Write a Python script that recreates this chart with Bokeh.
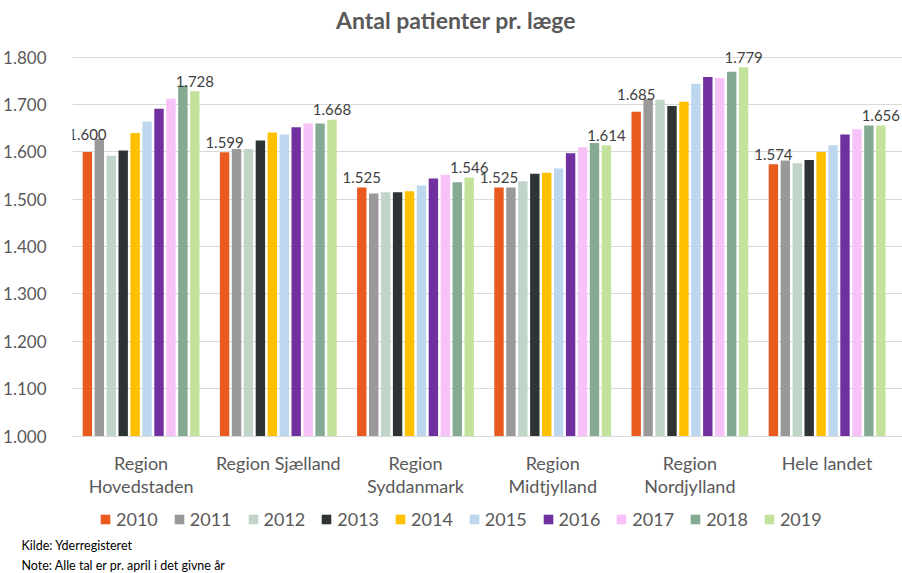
from bokeh.plotting import figure
from bokeh.models import (Range1d, FixedTicker, Label, Legend, LegendItem,
                          ColumnDataSource, Title)
from bokeh.transform import dodge
from bokeh.core.properties import value
from bokeh.embed import file_html
from bokeh.resources import INLINE

# ---------------- data ----------------
regions = ["Region Hovedstaden", "Region Sjælland", "Region Syddanmark",
           "Region Midtjylland", "Region Nordjylland", "Hele landet"]
region_labels = ["Region\nHovedstaden", "Region Sjælland", "Region\nSyddanmark",
                 "Region\nMidtjylland", "Region\nNordjylland", "Hele landet"]
years = ["2010", "2011", "2012", "2013", "2014", "2015", "2016", "2017", "2018", "2019"]

v2010 = [1600, 1599, 1525, 1525, 1685, 1574]
v2011 = [1628, 1606, 1512, 1525, 1712, 1582]
v2012 = [1592, 1606, 1515, 1538, 1710, 1576]
v2013 = [1603, 1624, 1515, 1554, 1697, 1583]
v2014 = [1640, 1641, 1517, 1556, 1706, 1600]
v2015 = [1664, 1637, 1529, 1565, 1744, 1614]
v2016 = [1691, 1652, 1544, 1597, 1758, 1637]
v2017 = [1712, 1660, 1552, 1610, 1756, 1648]
v2018 = [1740, 1660, 1536, 1619, 1769, 1656]
v2019 = [1728, 1668, 1546, 1614, 1779, 1656]
series = [v2010, v2011, v2012, v2013, v2014, v2015, v2016, v2017, v2018, v2019]

colors = ["#E85A1E", "#999999", "#C0D4C8", "#2E3436", "#FFC000",
          "#BDD7EE", "#7030A0", "#F6C2F8", "#84AA93", "#C3E39C"]

y_ticks = [1000, 1100, 1200, 1300, 1400, 1500, 1600, 1700, 1800]

title_text = "Antal patienter pr. læge"
source_text = "Kilde: Yderregisteret"
note_text = "Note: Alle tal er pr. april i det givne år"

FONT = "Lato"
GREY = "#595959"


def fmt(v):
    return f"{v:,}".replace(",", ".")


# ---------------- layout constants (pixels) ----------------
W, H = 902, 573
FRAME_L, FRAME_R, FRAME_B = 72, 902, 536
CAT_PX = 137.2                              # width of one category slot
PX_PER_UNIT = (438 - 57) / 800.0            # 1.000 at y=438, 1.800 at y=57
y_end = 1800 + 57 / PX_PER_UNIT
y_start = 1000 - (FRAME_B - 438) / PX_PER_UNIT

p = figure(x_range=Range1d(0, (FRAME_R - FRAME_L) / CAT_PX),
           y_range=Range1d(y_start, y_end),
           width=W, height=H,
           min_border_left=FRAME_L, min_border_right=W - FRAME_R,
           min_border_top=0, min_border_bottom=H - FRAME_B,
           output_backend="svg", toolbar_location=None, tools="")
p.outline_line_color = None
p.background_fill_color = "white"
p.border_fill_color = "white"

xpos = [i + 0.5 for i in range(len(regions))]   # slot centres
step = 0.087
bar_w = 0.0685
src = ColumnDataSource(dict(xpos=xpos, **{y: s for y, s in zip(years, series)}))

items = []
for j, (yr, col) in enumerate(zip(years, colors)):
    off = (j - 4.5) * step
    r = p.vbar(x=dodge("xpos", off), top=yr, bottom=1000,
               width=bar_w, source=src, fill_color=col, line_color=None)
    items.append(LegendItem(label=yr, renderers=[r]))

# data labels for first and last year (first-year label lifted above a taller neighbour)
first_y = [max(a, b - 12) for a, b in zip(v2010, v2011)]
p.text(x=dodge("xpos", -4.5 * step), y="y", text="text",
       source=ColumnDataSource(dict(xpos=xpos, y=first_y,
                                    text=[fmt(v) for v in v2010])),
       text_font=value(FONT), text_font_size="15px", text_color="#404040",
       text_align="center", text_baseline="alphabetic", y_offset=-10)
p.text(x=dodge("xpos", 4.5 * step), y="y", text="text",
       source=ColumnDataSource(dict(xpos=xpos, y=v2019,
                                    text=[fmt(v) for v in v2019])),
       text_font=value(FONT), text_font_size="15px", text_color="#404040",
       text_align="center", text_baseline="alphabetic", y_offset=-10)

# category labels (two lines)
line1 = [s.split("\n")[0] for s in region_labels]
line2 = [s.split("\n")[1] if "\n" in s else "" for s in region_labels]
cat_src = ColumnDataSource(dict(xpos=xpos, l1=line1, l2=line2,
                                base=[1000] * len(regions)))
for col_name, off in (("l1", 27), ("l2", 50)):
    p.text(x="xpos", y="base", text=col_name, source=cat_src,
           text_font=value(FONT), text_font_size="18px", text_color=GREY,
           text_align="center", text_baseline="middle", y_offset=off)

# axes
p.xaxis.visible = False
p.yaxis.ticker = FixedTicker(ticks=y_ticks)
p.yaxis.major_label_overrides = {t: fmt(t) for t in y_ticks}
p.yaxis.axis_line_color = None
p.yaxis.major_tick_line_color = None
p.yaxis.minor_tick_line_color = None
p.yaxis.major_label_standoff = 20
p.yaxis.major_label_text_font = FONT
p.yaxis.major_label_text_font_size = "17px"
p.yaxis.major_label_text_color = GREY

p.ygrid.ticker = FixedTicker(ticks=y_ticks)
p.ygrid.grid_line_color = "#D9D9D9"
p.xgrid.grid_line_color = None

# legend
legend = Legend(items=items, orientation="horizontal", location=(27, FRAME_B - 533),
                glyph_width=12, glyph_height=12, label_standoff=5, spacing=15,
                label_text_font=FONT, label_text_font_size="18px",
                label_text_color=GREY, label_height=20,
                padding=0, margin=0, border_line_color=None,
                background_fill_alpha=0)
p.add_layout(legend, "center")

# title
p.add_layout(Label(x=455.5 - FRAME_L, y=FRAME_B - 22, x_units="screen", y_units="screen",
                   text=title_text, text_font=FONT, text_font_size="23px",
                   text_font_style="bold", text_color=GREY,
                   text_align="center", text_baseline="middle"))

# footnotes
for txt, so in ((source_text, 5), (note_text, 1)):
    p.add_layout(Title(text=txt, align="left", offset=-51, standoff=so,
                       text_font=FONT, text_font_size="12.5px",
                       text_font_style="normal", text_color="#000000"), "below")

open("out.html", "w").write(file_html(p, INLINE))
